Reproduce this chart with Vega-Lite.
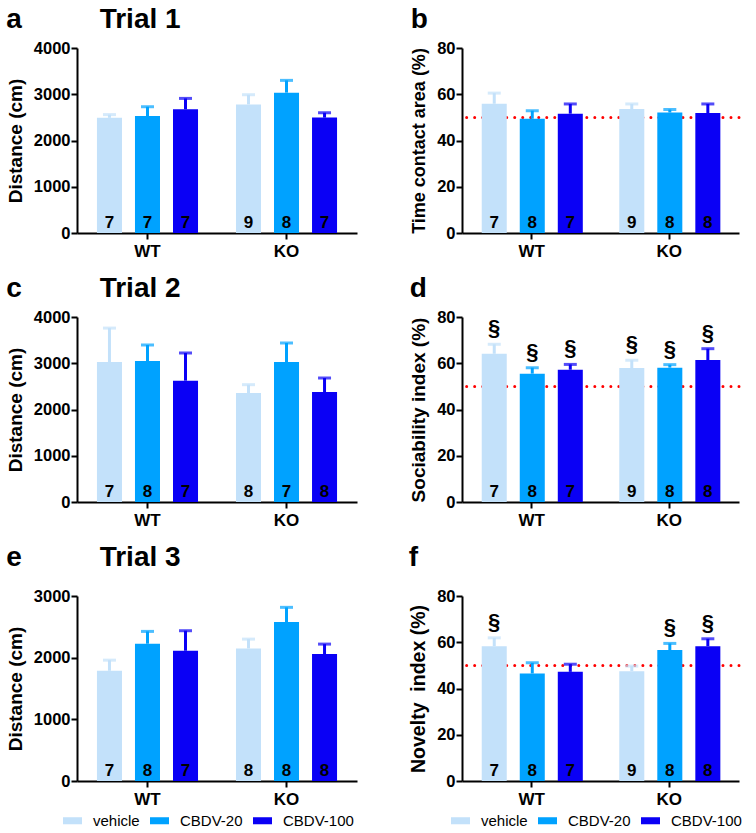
{
  "$schema": "https://vega.github.io/schema/vega-lite/v6.json",
  "background": "white",
  "padding": {"left": 6, "top": 6, "right": 4, "bottom": 0},
  "data": {
    "values": [
      {"panel": "a", "geno": "WT", "treat": "vehicle", "mean": 2490, "upper": 2560, "n": 7, "sig": ""},
      {"panel": "a", "geno": "WT", "treat": "CBDV-20", "mean": 2530, "upper": 2730, "n": 7, "sig": ""},
      {"panel": "a", "geno": "WT", "treat": "CBDV-100", "mean": 2675, "upper": 2910, "n": 7, "sig": ""},
      {"panel": "a", "geno": "KO", "treat": "vehicle", "mean": 2780, "upper": 2990, "n": 9, "sig": ""},
      {"panel": "a", "geno": "KO", "treat": "CBDV-20", "mean": 3035, "upper": 3300, "n": 8, "sig": ""},
      {"panel": "a", "geno": "KO", "treat": "CBDV-100", "mean": 2495, "upper": 2600, "n": 7, "sig": ""},
      {"panel": "b", "geno": "WT", "treat": "vehicle", "mean": 55.9, "upper": 60.5, "n": 7, "sig": ""},
      {"panel": "b", "geno": "WT", "treat": "CBDV-20", "mean": 49.4, "upper": 52.9, "n": 8, "sig": ""},
      {"panel": "b", "geno": "WT", "treat": "CBDV-100", "mean": 51.6, "upper": 55.8, "n": 7, "sig": ""},
      {"panel": "b", "geno": "KO", "treat": "vehicle", "mean": 53.6, "upper": 55.8, "n": 9, "sig": ""},
      {"panel": "b", "geno": "KO", "treat": "CBDV-20", "mean": 52.1, "upper": 53.4, "n": 8, "sig": ""},
      {"panel": "b", "geno": "KO", "treat": "CBDV-100", "mean": 51.9, "upper": 55.8, "n": 8, "sig": ""},
      {"panel": "c", "geno": "WT", "treat": "vehicle", "mean": 3027, "upper": 3760, "n": 7, "sig": ""},
      {"panel": "c", "geno": "WT", "treat": "CBDV-20", "mean": 3048, "upper": 3395, "n": 8, "sig": ""},
      {"panel": "c", "geno": "WT", "treat": "CBDV-100", "mean": 2623, "upper": 3222, "n": 7, "sig": ""},
      {"panel": "c", "geno": "KO", "treat": "vehicle", "mean": 2357, "upper": 2537, "n": 8, "sig": ""},
      {"panel": "c", "geno": "KO", "treat": "CBDV-20", "mean": 3027, "upper": 3438, "n": 7, "sig": ""},
      {"panel": "c", "geno": "KO", "treat": "CBDV-100", "mean": 2378, "upper": 2681, "n": 8, "sig": ""},
      {"panel": "d", "geno": "WT", "treat": "vehicle", "mean": 64.1, "upper": 68.2, "n": 7, "sig": "§"},
      {"panel": "d", "geno": "WT", "treat": "CBDV-20", "mean": 55.5, "upper": 58.1, "n": 8, "sig": "§"},
      {"panel": "d", "geno": "WT", "treat": "CBDV-100", "mean": 57.2, "upper": 59.5, "n": 7, "sig": "§"},
      {"panel": "d", "geno": "KO", "treat": "vehicle", "mean": 57.9, "upper": 61.3, "n": 9, "sig": "§"},
      {"panel": "d", "geno": "KO", "treat": "CBDV-20", "mean": 58.1, "upper": 59.4, "n": 8, "sig": "§"},
      {"panel": "d", "geno": "KO", "treat": "CBDV-100", "mean": 61.4, "upper": 66.3, "n": 8, "sig": "§"},
      {"panel": "e", "geno": "WT", "treat": "vehicle", "mean": 1787, "upper": 1960, "n": 7, "sig": ""},
      {"panel": "e", "geno": "WT", "treat": "CBDV-20", "mean": 2226, "upper": 2426, "n": 8, "sig": ""},
      {"panel": "e", "geno": "WT", "treat": "CBDV-100", "mean": 2112, "upper": 2437, "n": 7, "sig": ""},
      {"panel": "e", "geno": "KO", "treat": "vehicle", "mean": 2150, "upper": 2301, "n": 8, "sig": ""},
      {"panel": "e", "geno": "KO", "treat": "CBDV-20", "mean": 2578, "upper": 2816, "n": 8, "sig": ""},
      {"panel": "e", "geno": "KO", "treat": "CBDV-100", "mean": 2058, "upper": 2220, "n": 8, "sig": ""},
      {"panel": "f", "geno": "WT", "treat": "vehicle", "mean": 58.3, "upper": 61.9, "n": 7, "sig": "§"},
      {"panel": "f", "geno": "WT", "treat": "CBDV-20", "mean": 46.5, "upper": 51.1, "n": 8, "sig": ""},
      {"panel": "f", "geno": "WT", "treat": "CBDV-100", "mean": 47.2, "upper": 50.5, "n": 7, "sig": ""},
      {"panel": "f", "geno": "KO", "treat": "vehicle", "mean": 47.5, "upper": 49.7, "n": 9, "sig": ""},
      {"panel": "f", "geno": "KO", "treat": "CBDV-20", "mean": 56.6, "upper": 59.5, "n": 8, "sig": "§"},
      {"panel": "f", "geno": "KO", "treat": "CBDV-100", "mean": 58.3, "upper": 61.5, "n": 8, "sig": "§"}
    ]
  },
  "spacing": 51,
  "resolve": {"legend": {"color": "independent"}},
  "hconcat": [
    {
      "spacing": 16,
      "resolve": {"legend": {"color": "independent"}},
      "vconcat": [
        {
          "width": 280, "height": 185,
          "title": {"text": "a\u2003\u2003\u2002\u00a0Trial 1"},
          "transform": [{"filter": "datum.panel == 'a'"}],
          "layer": [
            {"mark": "bar", "encoding": {
              "x": {"field": "geno", "type": "nominal", "sort": ["WT", "KO"], "title": null, "scale": {"paddingInner": 0.273, "paddingOuter": 0.1435}},
              "xOffset": {"field": "treat", "type": "nominal", "sort": ["vehicle", "CBDV-20", "CBDV-100"], "scale": {"paddingInner": 0.342, "paddingOuter": 0}},
              "y": {"field": "mean", "type": "quantitative", "title": "Distance (cm)", "scale": {"domain": [0, 4000], "nice": false}, "axis": {"values": [0, 1000, 2000, 3000, 4000], "format": "d", "titleFontSize": 19}},
              "color": {"field": "treat", "type": "nominal", "scale": {"domain": ["vehicle", "CBDV-20", "CBDV-100"], "range": ["#c3e1fa", "#00a2ff", "#0a00f5"]}, "legend": null}}},
            {"mark": {"type": "rule", "strokeWidth": 3}, "encoding": {
              "x": {"field": "geno", "type": "nominal", "sort": ["WT", "KO"], "title": null},
              "xOffset": {"field": "treat", "type": "nominal", "sort": ["vehicle", "CBDV-20", "CBDV-100"]},
              "y": {"field": "mean", "type": "quantitative", "title": "Distance (cm)"},
              "y2": {"field": "upper"},
              "color": {"field": "treat", "type": "nominal", "legend": null}}},
            {"mark": {"type": "tick", "thickness": 3, "size": 13}, "encoding": {
              "x": {"field": "geno", "type": "nominal", "sort": ["WT", "KO"], "title": null},
              "xOffset": {"field": "treat", "type": "nominal", "sort": ["vehicle", "CBDV-20", "CBDV-100"]},
              "y": {"field": "upper", "type": "quantitative", "title": "Distance (cm)"},
              "color": {"field": "treat", "type": "nominal", "legend": null}}},
            {"mark": {"type": "text", "baseline": "alphabetic", "dy": -5, "fontSize": 17, "fontWeight": "bold", "color": "black"}, "encoding": {
              "x": {"field": "geno", "type": "nominal", "sort": ["WT", "KO"], "title": null},
              "xOffset": {"field": "treat", "type": "nominal", "sort": ["vehicle", "CBDV-20", "CBDV-100"]},
              "y": {"datum": 0, "type": "quantitative", "title": "Distance (cm)"},
              "text": {"field": "n", "type": "nominal"}}}
          ]
        },
        {
          "width": 280, "height": 185,
          "title": {"text": "c\u2003\u2003\u2002\u00a0Trial 2"},
          "transform": [{"filter": "datum.panel == 'c'"}],
          "layer": [
            {"mark": "bar", "encoding": {
              "x": {"field": "geno", "type": "nominal", "sort": ["WT", "KO"], "title": null, "scale": {"paddingInner": 0.273, "paddingOuter": 0.1435}},
              "xOffset": {"field": "treat", "type": "nominal", "sort": ["vehicle", "CBDV-20", "CBDV-100"], "scale": {"paddingInner": 0.342, "paddingOuter": 0}},
              "y": {"field": "mean", "type": "quantitative", "title": "Distance (cm)", "scale": {"domain": [0, 4000], "nice": false}, "axis": {"values": [0, 1000, 2000, 3000, 4000], "format": "d", "titleFontSize": 19}},
              "color": {"field": "treat", "type": "nominal", "scale": {"domain": ["vehicle", "CBDV-20", "CBDV-100"], "range": ["#c3e1fa", "#00a2ff", "#0a00f5"]}, "legend": null}}},
            {"mark": {"type": "rule", "strokeWidth": 3}, "encoding": {
              "x": {"field": "geno", "type": "nominal", "sort": ["WT", "KO"], "title": null},
              "xOffset": {"field": "treat", "type": "nominal", "sort": ["vehicle", "CBDV-20", "CBDV-100"]},
              "y": {"field": "mean", "type": "quantitative", "title": "Distance (cm)"},
              "y2": {"field": "upper"},
              "color": {"field": "treat", "type": "nominal", "legend": null}}},
            {"mark": {"type": "tick", "thickness": 3, "size": 13}, "encoding": {
              "x": {"field": "geno", "type": "nominal", "sort": ["WT", "KO"], "title": null},
              "xOffset": {"field": "treat", "type": "nominal", "sort": ["vehicle", "CBDV-20", "CBDV-100"]},
              "y": {"field": "upper", "type": "quantitative", "title": "Distance (cm)"},
              "color": {"field": "treat", "type": "nominal", "legend": null}}},
            {"mark": {"type": "text", "baseline": "alphabetic", "dy": -5, "fontSize": 17, "fontWeight": "bold", "color": "black"}, "encoding": {
              "x": {"field": "geno", "type": "nominal", "sort": ["WT", "KO"], "title": null},
              "xOffset": {"field": "treat", "type": "nominal", "sort": ["vehicle", "CBDV-20", "CBDV-100"]},
              "y": {"datum": 0, "type": "quantitative", "title": "Distance (cm)"},
              "text": {"field": "n", "type": "nominal"}}}
          ]
        },
        {
          "width": 280, "height": 185,
          "title": {"text": "e\u2003\u2003\u2002\u00a0Trial 3", "offset": 16},
          "transform": [{"filter": "datum.panel == 'e'"}],
          "layer": [
            {"mark": "bar", "encoding": {
              "x": {"field": "geno", "type": "nominal", "sort": ["WT", "KO"], "title": null, "scale": {"paddingInner": 0.273, "paddingOuter": 0.1435}},
              "xOffset": {"field": "treat", "type": "nominal", "sort": ["vehicle", "CBDV-20", "CBDV-100"], "scale": {"paddingInner": 0.342, "paddingOuter": 0}},
              "y": {"field": "mean", "type": "quantitative", "title": "Distance (cm)", "scale": {"domain": [0, 3000], "nice": false}, "axis": {"values": [0, 1000, 2000, 3000], "format": "d", "titleFontSize": 19}},
              "color": {"field": "treat", "type": "nominal", "scale": {"domain": ["vehicle", "CBDV-20", "CBDV-100"], "range": ["#c3e1fa", "#00a2ff", "#0a00f5"]},
                "legend": {"orient": "none", "legendX": -14, "legendY": 215, "direction": "horizontal", "title": null, "symbolType": "M-1,-0.37H1V0.37H-1Z", "symbolSize": 361, "symbolStrokeWidth": 0, "labelFontSize": 15, "labelColor": "black", "labelOffset": 11, "columnPadding": 10}}}},
            {"mark": {"type": "rule", "strokeWidth": 3}, "encoding": {
              "x": {"field": "geno", "type": "nominal", "sort": ["WT", "KO"], "title": null},
              "xOffset": {"field": "treat", "type": "nominal", "sort": ["vehicle", "CBDV-20", "CBDV-100"]},
              "y": {"field": "mean", "type": "quantitative", "title": "Distance (cm)"},
              "y2": {"field": "upper"},
              "color": {"field": "treat", "type": "nominal", "legend": null}}},
            {"mark": {"type": "tick", "thickness": 3, "size": 13}, "encoding": {
              "x": {"field": "geno", "type": "nominal", "sort": ["WT", "KO"], "title": null},
              "xOffset": {"field": "treat", "type": "nominal", "sort": ["vehicle", "CBDV-20", "CBDV-100"]},
              "y": {"field": "upper", "type": "quantitative", "title": "Distance (cm)"},
              "color": {"field": "treat", "type": "nominal", "legend": null}}},
            {"mark": {"type": "text", "baseline": "alphabetic", "dy": -5, "fontSize": 17, "fontWeight": "bold", "color": "black"}, "encoding": {
              "x": {"field": "geno", "type": "nominal", "sort": ["WT", "KO"], "title": null},
              "xOffset": {"field": "treat", "type": "nominal", "sort": ["vehicle", "CBDV-20", "CBDV-100"]},
              "y": {"datum": 0, "type": "quantitative", "title": "Distance (cm)"},
              "text": {"field": "n", "type": "nominal"}}}
          ]
        }
      ]
    },
    {
      "spacing": 16,
      "resolve": {"legend": {"color": "independent"}},
      "vconcat": [
        {
          "width": 277, "height": 185,
          "title": {"text": "b"},
          "transform": [{"filter": "datum.panel == 'b'"}],
          "layer": [
            {"data": {"values": [{"ref": 50}]}, "mark": {"type": "rule", "color": "#ff0000", "strokeWidth": 3, "strokeDash": [0.01, 8], "strokeCap": "round"}, "encoding": {"y": {"field": "ref", "type": "quantitative", "title": "Time contact area (%)"}}},
            {"mark": "bar", "encoding": {
              "x": {"field": "geno", "type": "nominal", "sort": ["WT", "KO"], "title": null, "scale": {"paddingInner": 0.273, "paddingOuter": 0.1435}},
              "xOffset": {"field": "treat", "type": "nominal", "sort": ["vehicle", "CBDV-20", "CBDV-100"], "scale": {"paddingInner": 0.342, "paddingOuter": 0}},
              "y": {"field": "mean", "type": "quantitative", "title": "Time contact area (%)", "scale": {"domain": [0, 80], "nice": false}, "axis": {"values": [0, 20, 40, 60, 80]}},
              "color": {"field": "treat", "type": "nominal", "scale": {"domain": ["vehicle", "CBDV-20", "CBDV-100"], "range": ["#c3e1fa", "#00a2ff", "#0a00f5"]}, "legend": null}}},
            {"mark": {"type": "rule", "strokeWidth": 3}, "encoding": {
              "x": {"field": "geno", "type": "nominal", "sort": ["WT", "KO"], "title": null},
              "xOffset": {"field": "treat", "type": "nominal", "sort": ["vehicle", "CBDV-20", "CBDV-100"]},
              "y": {"field": "mean", "type": "quantitative", "title": "Time contact area (%)"},
              "y2": {"field": "upper"},
              "color": {"field": "treat", "type": "nominal", "legend": null}}},
            {"mark": {"type": "tick", "thickness": 3, "size": 13}, "encoding": {
              "x": {"field": "geno", "type": "nominal", "sort": ["WT", "KO"], "title": null},
              "xOffset": {"field": "treat", "type": "nominal", "sort": ["vehicle", "CBDV-20", "CBDV-100"]},
              "y": {"field": "upper", "type": "quantitative", "title": "Time contact area (%)"},
              "color": {"field": "treat", "type": "nominal", "legend": null}}},
            {"mark": {"type": "text", "baseline": "alphabetic", "dy": -5, "fontSize": 17, "fontWeight": "bold", "color": "black"}, "encoding": {
              "x": {"field": "geno", "type": "nominal", "sort": ["WT", "KO"], "title": null},
              "xOffset": {"field": "treat", "type": "nominal", "sort": ["vehicle", "CBDV-20", "CBDV-100"]},
              "y": {"datum": 0, "type": "quantitative", "title": "Time contact area (%)"},
              "text": {"field": "n", "type": "nominal"}}}
          ]
        },
        {
          "width": 277, "height": 185,
          "title": {"text": "d"},
          "transform": [{"filter": "datum.panel == 'd'"}],
          "layer": [
            {"data": {"values": [{"ref": 50}]}, "mark": {"type": "rule", "color": "#ff0000", "strokeWidth": 3, "strokeDash": [0.01, 8], "strokeCap": "round"}, "encoding": {"y": {"field": "ref", "type": "quantitative", "title": "Sociability index (%)"}}},
            {"mark": "bar", "encoding": {
              "x": {"field": "geno", "type": "nominal", "sort": ["WT", "KO"], "title": null, "scale": {"paddingInner": 0.273, "paddingOuter": 0.1435}},
              "xOffset": {"field": "treat", "type": "nominal", "sort": ["vehicle", "CBDV-20", "CBDV-100"], "scale": {"paddingInner": 0.342, "paddingOuter": 0}},
              "y": {"field": "mean", "type": "quantitative", "title": "Sociability index (%)", "scale": {"domain": [0, 80], "nice": false}, "axis": {"values": [0, 20, 40, 60, 80], "titleFontSize": 19}},
              "color": {"field": "treat", "type": "nominal", "scale": {"domain": ["vehicle", "CBDV-20", "CBDV-100"], "range": ["#c3e1fa", "#00a2ff", "#0a00f5"]}, "legend": null}}},
            {"mark": {"type": "rule", "strokeWidth": 3}, "encoding": {
              "x": {"field": "geno", "type": "nominal", "sort": ["WT", "KO"], "title": null},
              "xOffset": {"field": "treat", "type": "nominal", "sort": ["vehicle", "CBDV-20", "CBDV-100"]},
              "y": {"field": "mean", "type": "quantitative", "title": "Sociability index (%)"},
              "y2": {"field": "upper"},
              "color": {"field": "treat", "type": "nominal", "legend": null}}},
            {"mark": {"type": "tick", "thickness": 3, "size": 13}, "encoding": {
              "x": {"field": "geno", "type": "nominal", "sort": ["WT", "KO"], "title": null},
              "xOffset": {"field": "treat", "type": "nominal", "sort": ["vehicle", "CBDV-20", "CBDV-100"]},
              "y": {"field": "upper", "type": "quantitative", "title": "Sociability index (%)"},
              "color": {"field": "treat", "type": "nominal", "legend": null}}},
            {"mark": {"type": "text", "baseline": "alphabetic", "dy": -5, "fontSize": 17, "fontWeight": "bold", "color": "black"}, "encoding": {
              "x": {"field": "geno", "type": "nominal", "sort": ["WT", "KO"], "title": null},
              "xOffset": {"field": "treat", "type": "nominal", "sort": ["vehicle", "CBDV-20", "CBDV-100"]},
              "y": {"datum": 0, "type": "quantitative", "title": "Sociability index (%)"},
              "text": {"field": "n", "type": "nominal"}}},
            {"mark": {"type": "text", "baseline": "alphabetic", "dy": -9, "fontSize": 22, "fontWeight": "bold", "color": "black"}, "encoding": {
              "x": {"field": "geno", "type": "nominal", "sort": ["WT", "KO"], "title": null},
              "xOffset": {"field": "treat", "type": "nominal", "sort": ["vehicle", "CBDV-20", "CBDV-100"]},
              "y": {"field": "upper", "type": "quantitative", "title": "Sociability index (%)"},
              "text": {"field": "sig", "type": "nominal"}}}
          ]
        },
        {
          "width": 277, "height": 185,
          "title": {"text": "f", "offset": 16},
          "transform": [{"filter": "datum.panel == 'f'"}],
          "layer": [
            {"data": {"values": [{"ref": 50}]}, "mark": {"type": "rule", "color": "#ff0000", "strokeWidth": 3, "strokeDash": [0.01, 8], "strokeCap": "round"}, "encoding": {"y": {"field": "ref", "type": "quantitative", "title": "Novelty\u00a0 index (%)"}}},
            {"mark": "bar", "encoding": {
              "x": {"field": "geno", "type": "nominal", "sort": ["WT", "KO"], "title": null, "scale": {"paddingInner": 0.273, "paddingOuter": 0.1435}},
              "xOffset": {"field": "treat", "type": "nominal", "sort": ["vehicle", "CBDV-20", "CBDV-100"], "scale": {"paddingInner": 0.342, "paddingOuter": 0}},
              "y": {"field": "mean", "type": "quantitative", "title": "Novelty\u00a0 index (%)", "scale": {"domain": [0, 80], "nice": false}, "axis": {"values": [0, 20, 40, 60, 80], "titleFontSize": 19.5}},
              "color": {"field": "treat", "type": "nominal", "scale": {"domain": ["vehicle", "CBDV-20", "CBDV-100"], "range": ["#c3e1fa", "#00a2ff", "#0a00f5"]},
                "legend": {"orient": "none", "legendX": -11, "legendY": 215, "direction": "horizontal", "title": null, "symbolType": "M-1,-0.37H1V0.37H-1Z", "symbolSize": 361, "symbolStrokeWidth": 0, "labelFontSize": 15, "labelColor": "black", "labelOffset": 11, "columnPadding": 10}}}},
            {"mark": {"type": "rule", "strokeWidth": 3}, "encoding": {
              "x": {"field": "geno", "type": "nominal", "sort": ["WT", "KO"], "title": null},
              "xOffset": {"field": "treat", "type": "nominal", "sort": ["vehicle", "CBDV-20", "CBDV-100"]},
              "y": {"field": "mean", "type": "quantitative", "title": "Novelty\u00a0 index (%)"},
              "y2": {"field": "upper"},
              "color": {"field": "treat", "type": "nominal", "legend": null}}},
            {"mark": {"type": "tick", "thickness": 3, "size": 13}, "encoding": {
              "x": {"field": "geno", "type": "nominal", "sort": ["WT", "KO"], "title": null},
              "xOffset": {"field": "treat", "type": "nominal", "sort": ["vehicle", "CBDV-20", "CBDV-100"]},
              "y": {"field": "upper", "type": "quantitative", "title": "Novelty\u00a0 index (%)"},
              "color": {"field": "treat", "type": "nominal", "legend": null}}},
            {"mark": {"type": "text", "baseline": "alphabetic", "dy": -5, "fontSize": 17, "fontWeight": "bold", "color": "black"}, "encoding": {
              "x": {"field": "geno", "type": "nominal", "sort": ["WT", "KO"], "title": null},
              "xOffset": {"field": "treat", "type": "nominal", "sort": ["vehicle", "CBDV-20", "CBDV-100"]},
              "y": {"datum": 0, "type": "quantitative", "title": "Novelty\u00a0 index (%)"},
              "text": {"field": "n", "type": "nominal"}}},
            {"mark": {"type": "text", "baseline": "alphabetic", "dy": -9, "fontSize": 22, "fontWeight": "bold", "color": "black"}, "encoding": {
              "x": {"field": "geno", "type": "nominal", "sort": ["WT", "KO"], "title": null},
              "xOffset": {"field": "treat", "type": "nominal", "sort": ["vehicle", "CBDV-20", "CBDV-100"]},
              "y": {"field": "upper", "type": "quantitative", "title": "Novelty\u00a0 index (%)"},
              "text": {"field": "sig", "type": "nominal"}}}
          ]
        }
      ]
    }
  ],
  "config": {
    "font": "Liberation Sans",
    "view": {"stroke": null},
    "axis": {"grid": false, "domainColor": "black", "domainWidth": 2, "tickColor": "black", "tickWidth": 2, "tickSize": 6, "labelFont": "Liberation Sans", "labelFontSize": 16, "labelFontWeight": "bold", "labelColor": "black", "labelPadding": 3, "titleFont": "Liberation Sans", "titleFontSize": 18, "titleFontWeight": "bold", "titleColor": "black", "titlePadding": 8},
    "axisY": {"labelFontSize": 16.5, "labelPadding": 1},
    "axisX": {"labelFontSize": 17, "labelAngle": 0, "labelPadding": 4},
    "title": {"font": "Liberation Sans", "fontSize": 28, "fontWeight": "bold", "color": "black", "anchor": "start", "frame": "bounds", "offset": 6},
    "legend": {"labelFont": "Liberation Sans"}
  }
}
